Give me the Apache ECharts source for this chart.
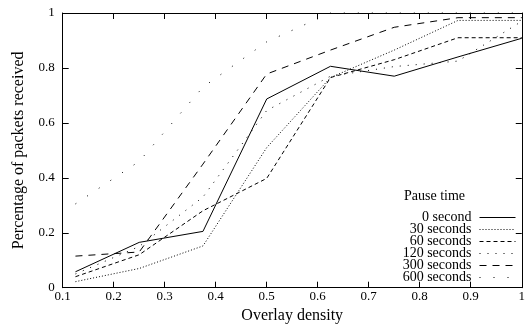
<!DOCTYPE html>
<html>
<head>
<meta charset="utf-8">
<script src="https://cdn.jsdelivr.net/npm/echarts@6/dist/echarts.min.js"></script>
<style>
html,body{margin:0;padding:0;background:#fff;}
#chart{width:528px;height:329px;}
</style>
</head>
<body>
<div id="chart"></div>
<script>
// ---- data ----
const density = [0.125, 0.25, 0.375, 0.5, 0.625, 0.75, 0.875, 1.0];
const seriesNames = ['0 second', '30 seconds', '60 seconds', '120 seconds', '300 seconds', '600 seconds'];
const pause0   = [0.058, 0.165, 0.205, 0.687, 0.806, 0.770, 0.840, 0.908];
const pause30  = [0.022, 0.070, 0.152, 0.510, 0.765, 0.865, 0.973, 0.973];
const pause60  = [0.040, 0.120, 0.280, 0.398, 0.765, 0.830, 0.910, 0.910];
const pause120 = [0.050, 0.150, 0.330, 0.645, 0.770, 0.805, 0.825, 0.970];
const pause300 = [0.115, 0.130, 0.450, 0.778, 0.865, 0.948, 0.983, 0.983];
const pause600 = [0.305, 0.460, 0.730, 0.895, 1.000, 1.000, 1.000, 1.000];
const xTickLabels = ['0.1','0.2','0.3','0.4','0.5','0.6','0.7','0.8','0.9','1'];
const yTickLabels = ['0','0.2','0.4','0.6','0.8','1'];
const xTitle = 'Overlay density';
const yTitle = 'Percentage of packets received';
const legendTitle = 'Pause time';

const allValues = [pause0, pause30, pause60, pause120, pause300, pause600];
const dashes = ['solid', [1, 2], [4, 3], [1, 7], [7, 6], [1, 13]];

const FONT = 'Liberation Serif';
const chart = echarts.init(document.getElementById('chart'), null, {renderer: 'canvas'});

const xLabel = v => xTickLabels[Math.round((v - 0.1) / 0.1)] ?? '';
const yLabel = v => yTickLabels[Math.round(v / 0.2)] ?? '';

const frameAxis = {
  axisLine: {show: true, onZero: false, lineStyle: {color: '#000', width: 1}},
  axisTick: {show: true, inside: true, length: 6, lineStyle: {color: '#000', width: 1}},
  splitLine: {show: false}
};

chart.setOption({
  animation: false,
  backgroundColor: '#fff',
  textStyle: {fontFamily: FONT, color: '#000'},
  grid: {left: 62.7, right: -1, top: 13, bottom: 41.3, containLabel: false},
  title: {
    text: legendTitle, left: 404, top: 189, padding: 0,
    textStyle: {fontFamily: FONT, fontSize: 14, fontWeight: 'normal', color: '#000'}
  },
  legend: {
    orient: 'vertical', align: 'right', right: 12, top: 210.5, padding: 0,
    itemWidth: 36, itemHeight: 12, itemGap: -2,
    data: seriesNames,
    itemStyle: {opacity: 0},
    lineStyle: {width: 1},
    textStyle: {fontFamily: FONT, fontSize: 14, lineHeight: 12, color: '#000', padding: [0, 3, 0, 0]},
    selectedMode: false
  },
  xAxis: [
    Object.assign({}, frameAxis, {
      type: 'value', min: 0.1, max: 1.0, interval: 0.1, position: 'bottom',
      name: xTitle, nameLocation: 'middle', nameGap: 12,
      nameTextStyle: {fontFamily: FONT, fontSize: 16, color: '#000'},
      axisLabel: {show: true, margin: 2, fontFamily: FONT, fontSize: 13, color: '#000', formatter: xLabel}
    }),
    Object.assign({}, frameAxis, {
      type: 'value', min: 0.1, max: 1.0, interval: 0.1, position: 'top',
      axisLabel: {show: false}
    })
  ],
  yAxis: [
    Object.assign({}, frameAxis, {
      type: 'value', min: 0, max: 1, interval: 0.2, position: 'left',
      name: yTitle, nameLocation: 'middle', nameGap: 36,
      nameTextStyle: {fontFamily: FONT, fontSize: 16, color: '#000'},
      axisLabel: {show: true, margin: 8, fontFamily: FONT, fontSize: 13, color: '#000', formatter: yLabel}
    }),
    Object.assign({}, frameAxis, {
      type: 'value', min: 0, max: 1, interval: 0.2, position: 'right',
      axisLabel: {show: false}
    })
  ],
  series: seriesNames.map((name, i) => ({
    name: name,
    type: 'line',
    xAxisIndex: 0, yAxisIndex: 0,
    symbol: 'none',
    clip: false,
    data: density.map((x, j) => [x, allValues[i][j]]),
    lineStyle: {color: '#000', width: 1, type: dashes[i]},
    itemStyle: {color: '#000'},
    emphasis: {disabled: true}
  }))
});
</script>
</body>
</html>
